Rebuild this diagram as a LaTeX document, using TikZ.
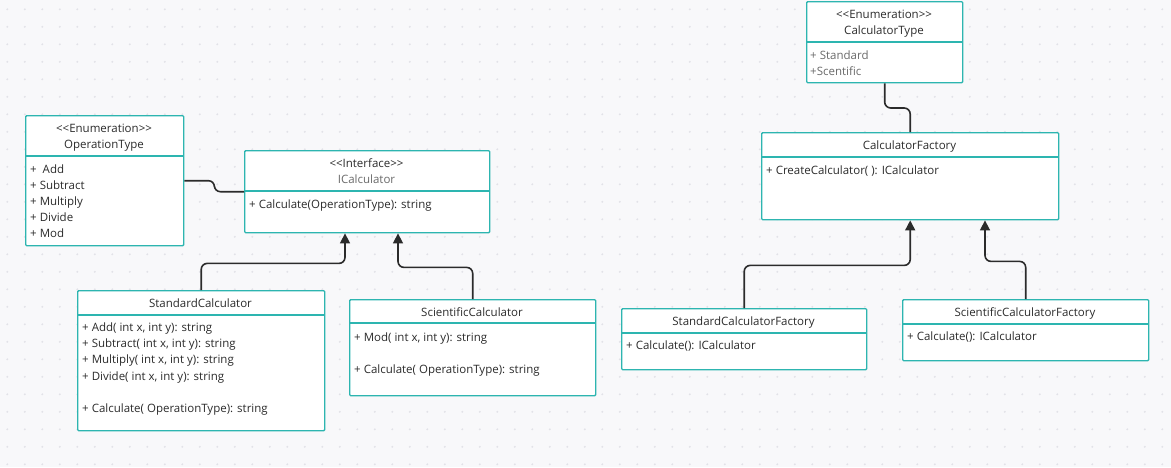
\documentclass[tikz,border=0pt]{standalone}
\usepackage{fontspec}
\setmainfont{Open Sans}
\usetikzlibrary{arrows.meta,calc}
\definecolor{bg}{HTML}{F8F8FA}
\definecolor{dotc}{HTML}{E2E2E8}
\definecolor{teal0}{HTML}{2DB5B0}
\definecolor{ink}{HTML}{2B2B2B}
\definecolor{grayink}{HTML}{6A6A6A}
\tikzset{
  cls/.style={draw=teal0, line width=1.4pt, fill=white, anchor=north west, inner sep=0pt, rounded corners=1pt},
  sep/.style={draw=teal0, line width=1.4pt},
  txt/.style={font=\fontsize{11.5}{13}\selectfont, text=ink, inner sep=0pt, text height=8.5pt, text depth=2.5pt, yshift=-1.2pt},
  item/.style={txt, anchor=west},
  conn/.style={draw=ink, line width=1.6pt, rounded corners=6pt},
  inh/.style={conn, -{Triangle[width=10pt,length=10pt]}},
}
\begin{document}
\begin{tikzpicture}[x=1pt,y=-1pt]
\useasboundingbox (0,0) rectangle (1171,467);
\fill[bg] (0,0) rectangle (1171,467);
\foreach \i in {0,...,66}{
  \foreach \j in {0,...,26}{
    \fill[dotc] (7.3+17.5*\i, 9.3+17.5*\j) circle (1.1);
  }
}

% OperationType
\node[cls, minimum width=158pt, minimum height=130pt] (op) at (25,115) {};
\draw[sep] (25,156) -- (183,156);
\node[txt] (opS) at (104,128) {<{}<Enumeration>{}>};
\node[txt] (opN) at (104,144) {OperationType};
\node[item] (op1) at (30,169) {+~ Add};
\node[item] (op2) at (30,185) {+ Subtract};
\node[item] (op3) at (30,201) {+ Multiply};
\node[item] (op4) at (30,217) {+ Divide};
\node[item] (op5) at (30,233) {+ Mod};

% ICalculator
\node[cls, minimum width=245pt, minimum height=82pt] (ic) at (244,150) {};
\draw[sep] (244,191) -- (489,191);
\node[txt] (icS) at (366.5,163) {<{}<Interface>{}>};
\node[txt, text=grayink] (icN) at (366.5,179) {ICalculator};
\node[item] (ic1) at (249,204) {+ Calculate(OperationType): string};

% StandardCalculator
\node[cls, minimum width=247pt, minimum height=140pt] (sc) at (77,290) {};
\draw[sep] (77,315) -- (324,315);
\node[txt] (scN) at (200.5,303) {StandardCalculator};
\node[item] (sc1) at (82,327) {+ Add( int x, int y): string};
\node[item] (sc2) at (82,343) {+ Subtract( int x, int y): string};
\node[item] (sc3) at (82,359) {+ Multiply( int x, int y): string};
\node[item] (sc4) at (82,376) {+ Divide( int x, int y): string};
\node[item] (sc5) at (82,408) {+ Calculate( OperationType): string};

% ScientificCalculator
\node[cls, minimum width=246pt, minimum height=96pt] (scc) at (349,299) {};
\draw[sep] (349,323) -- (595,323);
\node[txt] (sccN) at (472,312) {ScientificCalculator};
\node[item] (scc1) at (354,337) {+ Mod( int x, int y): string};
\node[item] (scc2) at (354,369) {+ Calculate( OperationType): string};

% CalculatorType
\node[cls, minimum width=156pt, minimum height=81pt] (ct) at (806,1) {};
\draw[sep] (806,42) -- (962,42);
\node[txt] (ctS) at (884,14) {<{}<Enumeration>{}>};
\node[txt] (ctN) at (884,30) {CalculatorType};
\node[item, text=grayink] (ct1) at (810,55) {+ Standard};
\node[item, text=grayink] (ct2) at (810,71) {+Scentific};

% CalculatorFactory
\node[cls, minimum width=297pt, minimum height=87pt] (cf) at (761,132) {};
\draw[sep] (761,157) -- (1058,157);
\node[txt] (cfN) at (909.5,145) {CalculatorFactory};
\node[item] (cf1) at (766,170) {+ CreateCalculator( ): ICalculator};

% StandardCalculatorFactory
\node[cls, minimum width=245pt, minimum height=61pt] (scf) at (621,308) {};
\draw[sep] (621,333) -- (866,333);
\node[txt] (scfN) at (743.5,321) {StandardCalculatorFactory};
\node[item] (scf1) at (626,345) {+ Calculate(): ICalculator};

% ScientificCalculatorFactory
\node[cls, minimum width=246pt, minimum height=61pt] (sccf) at (902,299) {};
\draw[sep] (902,324) -- (1148,324);
\node[txt] (sccfN) at (1025,312) {ScientificCalculatorFactory};
\node[item] (sccf1) at (907,336) {+ Calculate(): ICalculator};

% connectors
\draw[conn] (op.east) -- ++(30,0) |- (ic.west);
\draw[conn] (ct.south) |- ($(cf.north)+(0,-24)$) -- (cf.north);
\draw[inh] (sc.north) |- ($(ic.south west)+(101,30)$) -- ($(ic.south west)+(101,0)$);
\draw[inh] (scc.north) |- ($(ic.south west)+(154,34)$) -- ($(ic.south west)+(154,0)$);
\draw[inh] (scf.north) |- ($(cf.south)+(0,45)$) -- (cf.south);
\draw[inh] (sccf.north) |- ($(cf.south west)+(224,41)$) -- ($(cf.south west)+(224,0)$);
\end{tikzpicture}
\end{document}
